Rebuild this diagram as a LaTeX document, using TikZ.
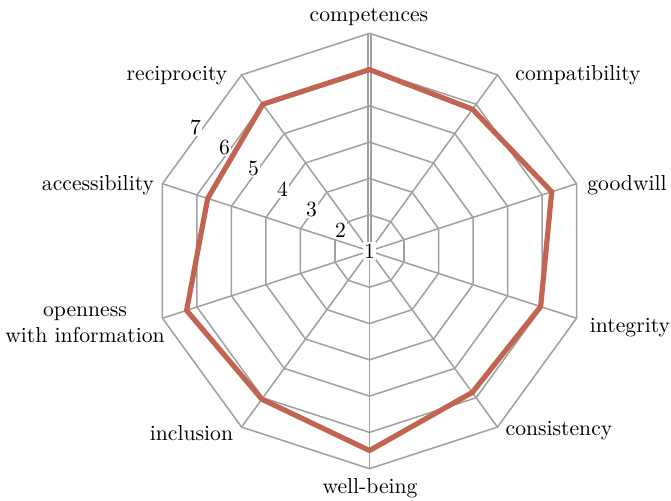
\documentclass[tikz,border=0pt]{standalone}
\definecolor{profilered}{RGB}{194,100,82}
\definecolor{gridgray}{RGB}{160,160,160}
\begin{document}
\begin{tikzpicture}[x=0.462pt,y=0.462pt,
	gridline/.style={draw=gridgray, line width=0.7pt},
	ticklabel/.style={fill=white, inner sep=0.6pt},
	axislabel/.style={inner sep=0pt, align=center},
	profile/.style={draw=profilered, line width=2.4pt, line join=round}]
	\useasboundingbox (0,0) rectangle (671,501);
	\begin{scope}[shift={(369.5,250)}]
		% grid
		\foreach \k in {2,...,7}
			\draw[gridline] (90:{(\k-1)*36.28}) \foreach \a in {126,162,...,414}{ -- (\a:{(\k-1)*36.28})} -- cycle;
		\foreach \a in {126,162,...,414}
			\draw[gridline] (0,0) -- (\a:217.7);
		\draw[gridline] (-1.4,0) -- (-1.4,217.7);
		\draw[gridline] (1.4,0) -- (1.4,217.7);
		% ticks
		\foreach \k in {1,...,7}
			\node[ticklabel] (tick\k) at (144.5:{(\k-1)*35.6}) {\k};
		% data
		\foreach \v [count=\i] in {6.0,5.83,6.28,5.96,5.82,6.5,6.05,6.3,5.69,6.0}
			\coordinate (p\i) at ({90-(\i-1)*36}:{(\v-1)*36.28});
		\draw[profile] (p1) -- (p2) -- (p3) -- (p4) -- (p5) -- (p6) -- (p7) -- (p8) -- (p9) -- (p10) -- cycle;
	\end{scope}
	% axis names
	\node[axislabel] (competences) at (369,484) {competences};
	\node[axislabel] (compatibility) at (578,426) {compatibility};
	\node[axislabel] (goodwill) at (627,316) {goodwill};
	\node[axislabel] (integrity) at (630,173) {integrity};
	\node[axislabel] (consistency) at (559,70) {consistency};
	\node[axislabel] (wellbeing) at (370,13) {well-being};
	\node[axislabel] (inclusion) at (191.5,68) {inclusion};
	\node[axislabel] (openness) at (85,176) {openness\\with information};
	\node[axislabel] (accessibility) at (98,316) {accessibility};
	\node[axislabel] (reciprocity) at (177,425) {reciprocity};
\end{tikzpicture}
\end{document}
